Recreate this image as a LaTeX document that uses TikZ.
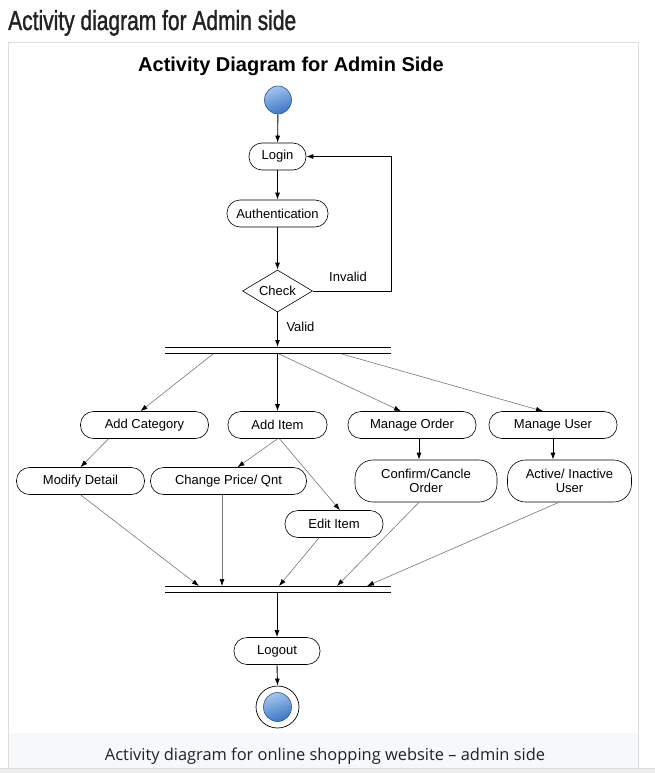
\documentclass[tikz,border=0pt]{standalone}
\usepackage{fontspec}
\usepackage{graphicx}
\setmainfont{Liberation Sans}
\newfontfamily\capfont{Open Sans}
\newfontfamily\headfont[FakeBold=1.5]{Liberation Sans}
\usetikzlibrary{arrows.meta,shapes.geometric}
\definecolor{framegray}{HTML}{DDDDDD}
\definecolor{capbg}{HTML}{F6F8FA}
\definecolor{linegray}{HTML}{777777}
\definecolor{balltop}{HTML}{A3C6F0}
\definecolor{ballbot}{HTML}{3C74C4}
\definecolor{balledge}{HTML}{2E5790}
\definecolor{titlegray}{HTML}{222222}
\begin{document}
\begin{tikzpicture}[x=1pt,y=-1pt,
  act/.style={draw=black, line width=0.6pt, rounded corners=13pt, minimum height=27pt,
    inner sep=0pt, font=\fontsize{13}{14}\selectfont, align=center, fill=white},
  lbl/.style={inner sep=0pt, font=\fontsize{13}{14}\selectfont},
  flow/.style={draw=black, line width=0.9pt, -{Latex[length=7pt,width=5pt]}},
  thinflow/.style={draw=linegray, line width=0.6pt, -{Latex[length=7pt,width=5pt,color=black]}},
  barline/.style={draw=black, line width=0.8pt},
  ballnode/.style={ellipse, inner sep=0pt, top color=balltop, bottom color=ballbot,
    shading angle=20, draw=balledge, line width=0.6pt}
]
\useasboundingbox (0,0) rectangle (655,773);
\fill[white] (0,0) rectangle (655,773);
% frame and caption strip
\fill[capbg] (9,733) rectangle (638,768);
\draw[framegray, line width=0.8pt] (8.5,42.5) rectangle (638.5,790);
\fill[black!7] (0,768) rectangle (655,773);
\draw[framegray, line width=0.8pt] (0,768) -- (655,768);

% titles
\node[anchor=base west, inner sep=0pt, text=titlegray] (pagetitle) at (8,30)
  {\resizebox{288pt}{20pt}{\headfont Activity diagram for Admin side}};
\node[anchor=base, inner sep=0pt, font=\bfseries\fontsize{20}{24}\selectfont] (dtitle) at (291,72)
  {Activity Diagram for Admin Side};
\node[anchor=base, inner sep=0pt, text=titlegray] (caption) at (325,760)
  {\resizebox{440pt}{!}{\capfont Activity diagram for online shopping website – admin side}};

% nodes
\node[ballnode, minimum width=27pt, minimum height=28pt] (start) at (278,100) {};
\node[act, minimum width=57pt] (login) at (277.5,156.5) {Login};
\node[act, minimum width=101pt] (auth) at (277.5,213.5) {Authentication};
\node[draw=black, line width=0.6pt, diamond, aspect=1.6, inner sep=0pt, minimum width=70pt,
  minimum height=42pt, font=\fontsize{13}{14}\selectfont, fill=white] (check) at (277.5,291) {Check};
\node[act, minimum width=128pt] (addcat) at (144.5,425) {Add Category};
\node[act, minimum width=99pt] (additem) at (277.5,425) {Add Item};
\node[act, minimum width=128pt] (morder) at (412,425) {Manage Order};
\node[act, minimum width=128pt] (muser) at (553,425) {Manage User};
\node[act, minimum width=128pt] (modify) at (80.5,481) {Modify Detail};
\node[act, minimum width=156pt] (change) at (228.5,481) {Change Price/ Qnt};
\node[act, minimum width=142pt, minimum height=42pt, rounded corners=18pt] (confirm) at (426,481) {Confirm/Cancle\\Order};
\node[act, minimum width=124pt, minimum height=42pt, rounded corners=18pt] (active) at (569.5,481) {Active/ Inactive\\User};
\node[act, minimum width=98pt] (edit) at (334,524) {Edit Item};
\node[act, minimum width=86pt] (logout) at (277,651) {Logout};
\node[ellipse, draw=black, line width=0.7pt, fill=white, inner sep=0pt, minimum width=43pt, minimum height=42pt] (end) at (277.5,707) {};
\node[ballnode, minimum width=28pt, minimum height=29pt] (endin) at (end.center) {};

\node[lbl] (invalid) at (348,277) {Invalid};
\node[lbl] (valid) at (300.5,327) {Valid};

% fork / join bars
\coordinate (forkL1) at (165,347); \coordinate (forkR1) at (391,347);
\coordinate (forkL2) at (165,353); \coordinate (forkR2) at (391,353);
\coordinate (joinL1) at (165,586); \coordinate (joinR1) at (391,586);
\coordinate (joinL2) at (165,592); \coordinate (joinR2) at (391,592);
\draw[barline] (forkL1) -- (forkR1);
\draw[barline] (forkL2) -- (forkR2);
\draw[barline] (joinL1) -- (joinR1);
\draw[barline] (joinL2) -- (joinR2);

\coordinate (forkin) at (277.5,347);
\coordinate (fo1) at (213,354);
\coordinate (fo2) at (277.5,353);
\coordinate (fo3) at (279,354);
\coordinate (fo4) at (342,354);
\coordinate (j1) at (199,586);
\coordinate (j2) at (222,586);
\coordinate (j3) at (279,586);
\coordinate (j4) at (337,586);
\coordinate (j5) at (367,586);
\coordinate (jout) at (277,592);
\coordinate (loop) at (391,156.5);

% connectors
\draw[flow] (start) -- (login);
\draw[flow] (login) -- (auth);
\draw[flow] (auth) -- (check);
\draw[flow] (check.south) -- (forkin);
\draw[flow] (check.east) -| (loop) -- (login.east);

\draw[thinflow] (fo1) -- ([xshift=-4pt]addcat.north);
\draw[flow] (fo2) -- (additem.north);
\draw[thinflow] (fo3) -- ([xshift=-11pt]morder.north);
\draw[thinflow] (fo4) -- ([xshift=-10pt]muser.north);

\draw[thinflow] ([xshift=-36pt]addcat.south) -- (modify.north);
\draw[thinflow] (additem.south) -- ([xshift=9pt]change.north);
\draw[thinflow] ([xshift=2pt]additem.south) -- ([xshift=6pt]edit.north);
\draw[flow] ([xshift=7pt]morder.south) -- ([xshift=-7pt]confirm.north);
\draw[flow] (muser.south) -- ([xshift=-16.5pt]active.north);

\draw[thinflow] (modify.south) -- (j1);
\draw[thinflow] ([xshift=-6.5pt]change.south) -- (j2);
\draw[thinflow] ([xshift=-15pt]edit.south) -- (j3);
\draw[thinflow] ([xshift=-7pt]confirm.south) -- (j4);
\draw[thinflow] ([xshift=-10.5pt]active.south) -- (j5);

\draw[flow] (jout) -- (logout.north);
\draw[flow] (logout.south) -- (end.north);
\end{tikzpicture}
\end{document}
